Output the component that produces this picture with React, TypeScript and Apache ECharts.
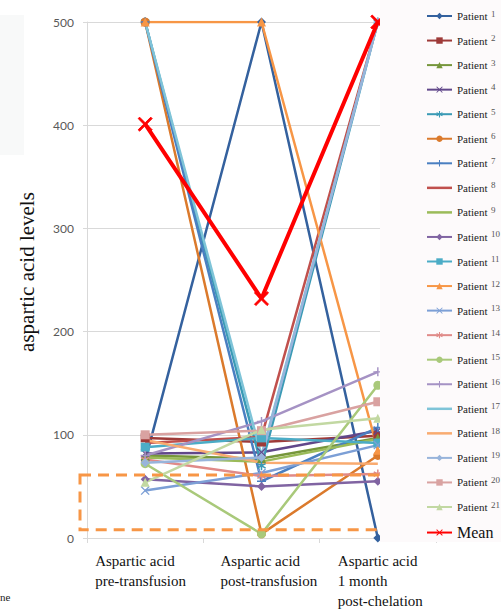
import React, { useEffect, useRef } from "react";
import * as echarts from "echarts";

const categories = ["pre", "post", "month"];
const categoryLines = [
  ["Aspartic acid", "pre-transfusion"],
  ["Aspartic acid", "post-transfusion"],
  ["Aspartic acid", "1 month", "post-chelation"],
];
const yTicks = [0, 100, 200, 300, 400, 500];

const p1 = [75, 500, 0];
const p2 = [97, 93, 99];
const p3 = [80, 77, 97];
const p4 = [82, 83, 104];
const p5 = [500, 70, 500];
const p6 = [500, 4, 80];
const p7 = [500, 55, 107];
const p8 = [92, 98, 500];
const p9 = [78, 74, 96];
const p10 = [57, 50, 55];
const p11 = [88, 97, 92];
const p12 = [500, 500, 85];
const p13 = [46, 63, 90];
const p14 = [76, 60, 62];
const p15 = [72, 4, 148];
const p16 = [80, 113, 161];
const p17 = [500, 80, 500];
const p18 = [95, 73, 72];
const p19 = [73, 78, 500];
const p20 = [100, 104, 132];
const p21 = [54, 105, 116];
const mean = [401, 232, 500];

const patientValues = [p1, p2, p3, p4, p5, p6, p7, p8, p9, p10, p11, p12, p13, p14, p15, p16, p17, p18, p19, p20, p21];
const patientNames = patientValues.map((_, i) => `Patient ${i + 1}`);

const BOX_TOP = 61;
const BOX_BOTTOM = 8;

const X_PATH = "path://M1,0L5,4L9,0L10,1L6,5L10,9L9,10L5,6L1,10L0,9L4,5L0,1Z";
const STAR_PATH = "path://M4.2,0H5.8V3.6L8.9,1.8L9.7,3.2L6.6,5L9.7,6.8L8.9,8.2L5.8,6.4V10H4.2V6.4L1.1,8.2L0.3,6.8L3.4,5L0.3,3.2L1.1,1.8L4.2,3.6Z";
const PLUS_PATH = "path://M4.2,0H5.8V4.2H10V5.8H5.8V10H4.2V5.8H0V4.2H4.2Z";
const LINE_ICON = "path://M0,0H25V2.5H0Z";

const colors = [
  "#34619e", "#9e3a38", "#76963b", "#61478a", "#3a9ab5", "#db7a2c", "#4a7fc1",
  "#c0504d", "#9bbb59", "#8064a2", "#4bacc6", "#f79646", "#7c9fd6", "#e08a88",
  "#a9c97a", "#a592c4", "#7fc4d8", "#f9ab70", "#98b4db", "#d9a2a1", "#c2d8a2",
];
const symbols = [
  "diamond", "rect", "triangle", X_PATH, STAR_PATH, "circle", PLUS_PATH,
  "none", "none", "diamond", "rect", "triangle", X_PATH, STAR_PATH,
  "circle", PLUS_PATH, "none", "none", "diamond", "rect", "triangle",
];

export default function App() {
  const ref = useRef<HTMLDivElement>(null);
  useEffect(() => {
    if (!ref.current) return;
    const chart = echarts.init(ref.current, null, { renderer: "svg" });
    const series: any[] = patientValues.map((vals, i) => ({
      name: patientNames[i],
      type: "line",
      data: vals,
      symbol: symbols[i],
      symbolSize: 9,
      showSymbol: symbols[i] !== "none",
      lineStyle: { width: 2.5, color: colors[i] },
      itemStyle: { color: colors[i] },
      z: 2,
    }));
    series.push({
      name: "Mean",
      type: "line",
      data: mean,
      symbol: X_PATH,
      symbolSize: 14,
      lineStyle: { width: 4, color: "#ff0000" },
      itemStyle: { color: "#ff0000", borderColor: "#ff0000" },
      z: 3,
    });

    const labelRich: any = {};
    const widths = [100, 100, 92];
    const pads = [0, 18, 12];
    [0, 1, 2].forEach((k) => {
      labelRich["c" + k] = {
        fontFamily: "Liberation Serif",
        fontSize: 15,
        color: "#111",
        lineHeight: 20,
        width: widths[k],
        align: "left",
        padding: [0, 0, 0, pads[k]],
      };
    });

    const legendData: any[] = patientNames.map((n, i) =>
      symbols[i] === "none"
        ? { name: n, icon: LINE_ICON, itemStyle: { color: colors[i] } }
        : { name: n }
    );
    legendData.push({ name: "Mean" });

    const option: any = {
      animation: false,
      backgroundColor: "#ffffff",
      color: colors.concat(["#ff0000"]),
      grid: { left: 87, right: 65, top: 22, bottom: 71, containLabel: false },
      xAxis: {
        type: "category",
        data: categories,
        boundaryGap: true,
        axisLine: { show: true, lineStyle: { color: "#d9d9d9", width: 1 } },
        axisTick: { show: true, length: 5, lineStyle: { color: "#d9d9d9" } },
        axisLabel: {
          margin: 13,
          interval: 0,
          formatter: (v: string) => {
            const k = categories.indexOf(v);
            return categoryLines[k].map((l) => `{c${k}|${l}}`).join("\n");
          },
          rich: labelRich,
        },
      },
      yAxis: {
        type: "value",
        min: yTicks[0],
        max: yTicks[yTicks.length - 1],
        interval: 100,
        axisLine: { show: true, lineStyle: { color: "#d9d9d9" } },
        axisTick: { show: true, length: 4, lineStyle: { color: "#d9d9d9" } },
        splitLine: { lineStyle: { color: "#d9d9d9", width: 1 } },
        axisLabel: { margin: 13, color: "#595959", fontSize: 12, fontFamily: "Lato" },
      },
      legend: {
        orient: "vertical",
        left: 421,
        top: 4,
        itemWidth: 25,
        itemHeight: 8,
        itemGap: 11.55,
        symbolKeepAspect: true,
        data: legendData,
        formatter: (name: string) => {
          if (name === "Mean") return `{m|Mean}`;
          const n = name.replace("Patient ", "");
          return `{p|Patient} {n|${n}}`;
        },
        textStyle: {
          rich: {
            p: { fontFamily: "Liberation Serif", fontSize: 11, color: "#222", lineHeight: 14 },
            n: { fontFamily: "Liberation Serif", fontSize: 9, color: "#555", lineHeight: 14, verticalAlign: "top" },
            m: { fontFamily: "Liberation Serif", fontSize: 16, color: "#111", lineHeight: 14 },
          },
        },
        z: 10,
      },
      series,
    };
    chart.setOption(option);

    const yTop = chart.convertToPixel({ yAxisIndex: 0 }, BOX_TOP) as number;
    const yBot = chart.convertToPixel({ yAxisIndex: 0 }, BOX_BOTTOM) as number;

    chart.setOption({
      graphic: [
        {
          type: "rect",
          z: 5,
          shape: { x: 80, y: yTop, width: 400, height: yBot - yTop },
          style: { fill: "none", stroke: "#f79646", lineWidth: 3, lineDash: [11, 7] },
        },
        {
          type: "rect",
          z: 6,
          shape: { x: 380, y: 0, width: 121, height: 542 },
          style: { fill: "#fdfafb" },
        },
        {
          type: "rect",
          z: 1,
          shape: { x: 0, y: 15, width: 24, height: 140 },
          style: { fill: "#f8f9f9" },
        },
        {
          type: "text",
          z: 7,
          x: 27,
          y: 272,
          rotation: Math.PI / 2,
          style: {
            text: "aspartic acid levels",
            fontFamily: "Liberation Serif",
            fontSize: 21,
            fill: "#111",
            align: "center",
            verticalAlign: "middle",
          },
        },
        {
          type: "text",
          z: 7,
          x: 0,
          y: 591,
          style: { text: "ne", fontFamily: "Liberation Serif", fontSize: 11, fill: "#222" },
        },
      ],
    });

    return () => chart.dispose();
  }, []);
  return (
    <div
      ref={ref}
      style={{ position: "absolute", left: 0, top: 0, width: 501, height: 609 }}
    />
  );
}
